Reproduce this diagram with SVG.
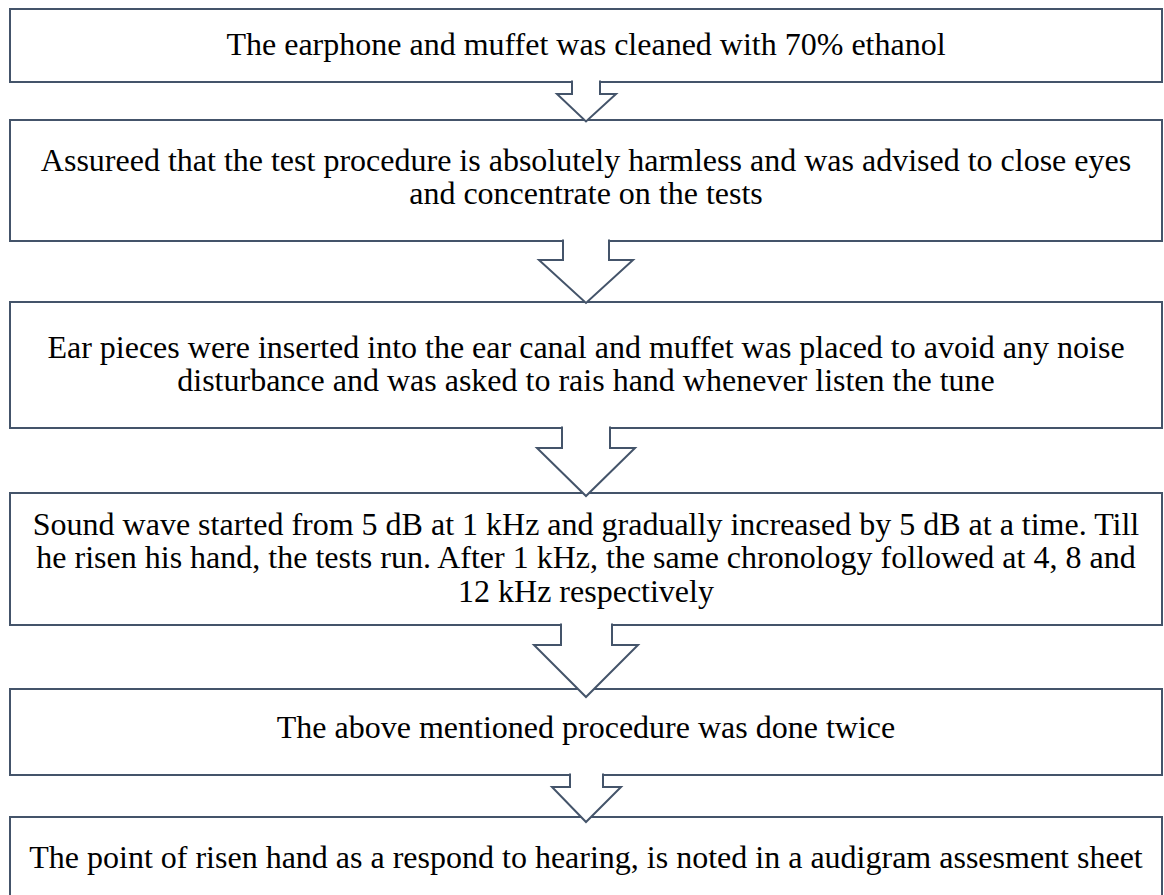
<svg xmlns="http://www.w3.org/2000/svg" width="1164" height="895" viewBox="0 0 1164 895">
<style>
.box{fill:#ffffff;stroke:#44546A;stroke-width:2}
.arr{fill:#ffffff;stroke:#44546A;stroke-width:2;stroke-linejoin:miter}
.t{font-family:"Liberation Serif","Times New Roman",serif;font-size:32px;fill:#000000;text-anchor:middle}
</style>
<rect width="1164" height="895" fill="#ffffff"/>
<g id="node1">
<rect class="box" x="10" y="9" width="1152" height="73"/>
<text class="t" x="586" y="55">The earphone and muffet was cleaned with 70% ethanol</text>
</g>
<g id="node2">
<rect class="box" x="10" y="120" width="1152" height="121"/>
<text class="t" x="586" y="171">Assureed that the test procedure is absolutely harmless and was advised to close eyes</text>
<text class="t" x="586" y="204">and concentrate on the tests</text>
</g>
<g id="node3">
<rect class="box" x="10" y="302" width="1152" height="126"/>
<text class="t" x="586" y="357.5">Ear pieces were inserted into the ear canal and muffet was placed to avoid any noise</text>
<text class="t" x="586" y="390.5">disturbance and was asked to rais hand whenever listen the tune</text>
</g>
<g id="node4">
<rect class="box" x="10" y="493" width="1152" height="132"/>
<text class="t" x="586" y="535">Sound wave started from 5 dB at 1 kHz and gradually increased by 5 dB at a time. Till</text>
<text class="t" x="586" y="568.3">he risen his hand, the tests run. After 1 kHz, the same chronology followed at 4, 8 and</text>
<text class="t" x="586" y="601.6">12 kHz respectively</text>
</g>
<g id="node5">
<rect class="box" x="10" y="689" width="1152" height="86"/>
<text class="t" x="586" y="738">The above mentioned procedure was done twice</text>
</g>
<g id="node6">
<rect class="box" x="10" y="817" width="1152" height="90"/>
<text class="t" x="586" y="867.5">The point of risen hand as a respond to hearing, is noted in a audigram assesment sheet</text>
</g>
<g id="connectors">
<path class="arr" d="M572,80.5 L572,94 L557,94 L586,121.5 L616,94 L600,94 L600,80.5"/>
<path class="arr" d="M563,239.5 L563,260 L539,260 L586,303 L633,260 L609,260 L609,239.5"/>
<path class="arr" d="M562,426.5 L562,448 L537,448 L586,496 L635,448 L610,448 L610,426.5"/>
<path class="arr" d="M561,623.5 L561,645 L534,645 L586,697 L638,645 L612,645 L612,623.5"/>
<path class="arr" d="M570,773.5 L570,787 L552,787 L586,822 L621,787 L603,787 L603,773.5"/>
</g>
</svg>
